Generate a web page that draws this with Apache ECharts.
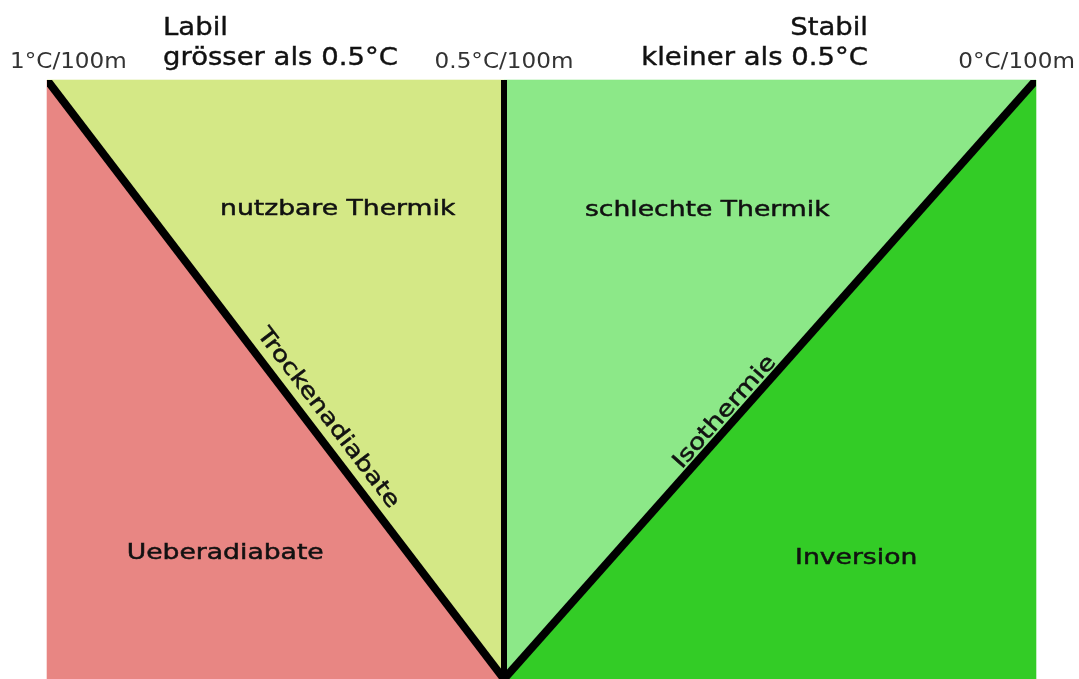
<!DOCTYPE html>
<html><head><meta charset="utf-8">
<script src="https://cdn.jsdelivr.net/npm/echarts@6/dist/echarts.min.js"></script>
<style>html,body{margin:0;padding:0;background:#fff}#c{width:1079px;height:679px}</style>
</head><body><div id="c"></div>
<script>
// lapse rate (°C per 100 m) on x, relative height on y
const leftTicks = [1, 0.5];
const leftTickLabels = ['1°C/100m', '0.5°C/100m'];
const rightTicks = [0];
const rightTickLabels = ['0°C/100m'];
const headerLabil = ['Labil', 'grösser als 0.5°C'];
const headerStabil = ['Stabil', 'kleiner als 0.5°C'];

const ueberadiabate = [[1, 1], [1, 0], [0.5, 0]];
const nutzbareThermik = [[1, 1], [0.5, 1], [0.5, 0]];
const schlechteThermik = [[0.5, 1], [0, 1], [0.5, 0]];
const inversion = [[0, 1], [0, 0], [0.5, 0]];

const trockenadiabate = [[1, 1], [0.5, 0]];
const neutralLine = [[0.5, 1], [0.5, 0]];
const isothermie = [[0.5, 0], [0, 1]];

const leftRegionNames = ['nutzbare Thermik', 'Ueberadiabate'];
const leftRegionAnchors = [[0.682, 0.785], [0.805, 0.210]];
const rightRegionNames = ['schlechte Thermik', 'Inversion'];
const rightRegionAnchors = [[0.309, 0.783], [0.169, 0.201]];

const FONT = '"DejaVu Sans", Verdana, sans-serif';
const chart = echarts.init(document.getElementById('c'), null, {renderer: 'canvas'});

function textEl(x, y, text, size, sx, align, rot, strokeW) {
  return {
    type: 'text', x: x, y: y, rotation: rot || 0, scaleX: sx, scaleY: 1,
    style: {
      text: text, fill: '#111', font: size + 'px ' + FONT,
      stroke: strokeW ? '#111' : null, lineWidth: strokeW || 0,
      align: align, textAlign: align, verticalAlign: 'middle', textVerticalAlign: 'middle'
    }
  };
}

function polySeries(points, gi, color) {
  return {
    type: 'custom', xAxisIndex: gi, yAxisIndex: gi, silent: true, z: 1,
    data: points, encode: {x: 0, y: 1},
    renderItem: function (params, api) {
      if (params.dataIndex !== 0) return null;
      return {type: 'polygon', shape: {points: points.map(p => api.coord(p))},
        style: {fill: color, stroke: color, lineWidth: 0.6}};
    }
  };
}

function lineSeries(points, gi, width, label, clip) {
  return {
    type: 'custom', xAxisIndex: gi, yAxisIndex: gi, silent: true, z: 3, clip: clip,
    data: points, encode: {x: 0, y: 1},
    renderItem: function (params, api) {
      if (params.dataIndex !== 0) return null;
      const a = api.coord(points[0]), b = api.coord(points[1]);
      const children = [{type: 'polyline', shape: {points: [a, b]},
        style: {stroke: '#000', lineWidth: width, fill: null}}];
      if (label) {
        const dx = b[0] - a[0], dy = b[1] - a[1], len = Math.hypot(dx, dy);
        const px = a[0] + dx * label.t + label.off * dy / len;
        const py = a[1] + dy * label.t - label.off * dx / len;
        children.push(textEl(px, py, label.text, 22, 1.22, 'center', -Math.atan2(dy, dx), 0.5));
      }
      return {type: 'group', children: children};
    }
  };
}

function regionTextSeries(anchors, names, gi) {
  return {
    type: 'custom', xAxisIndex: gi, yAxisIndex: gi, silent: true, z: 4,
    data: anchors, encode: {x: 0, y: 1},
    renderItem: function (params, api) {
      const c = api.coord(anchors[params.dataIndex]);
      return textEl(c[0], c[1], names[params.dataIndex], 22, 1.21, 'center', 0, 0.5);
    }
  };
}

function tickSeries(ticks, labels, gi) {
  return {
    type: 'custom', xAxisIndex: gi, yAxisIndex: gi, silent: true, z: 4,
    data: ticks.map(t => [t, 1]), encode: {x: 0, y: 1},
    renderItem: function (params, api) {
      const v = ticks[params.dataIndex];
      const c = api.coord([v, 1]);
      let align = 'center', x = c[0];
      if (v === 1) { align = 'left'; x = c[0] - 37; }
      if (v === 0) { align = 'right'; x = c[0] + 39; }
      const el = textEl(x, c[1] - 17, labels[params.dataIndex], 21, 1.1, align);
      el.style.fill = '#333';
      return el;
    }
  };
}

const option = {
  backgroundColor: '#ffffff',
  animation: false,
  grid: [
    {left: 47, width: 457, top: 80, bottom: 0},
    {left: 504, width: 532, top: 80, bottom: 0}
  ],
  xAxis: [
    {gridIndex: 0, type: 'value', min: 0.5, max: 1, inverse: true, show: false},
    {gridIndex: 1, type: 'value', min: 0, max: 0.5, inverse: true, show: false}
  ],
  yAxis: [
    {gridIndex: 0, type: 'value', min: 0, max: 1, show: false},
    {gridIndex: 1, type: 'value', min: 0, max: 1, show: false}
  ],
  graphic: [
    textEl(163, 28, headerLabil[0], 25, 1.1, 'left', 0, 0.4),
    textEl(163, 58, headerLabil[1], 25, 1.1, 'left', 0, 0.4),
    textEl(868, 28, headerStabil[0], 25, 1.1, 'right', 0, 0.4),
    textEl(868, 58, headerStabil[1], 25, 1.1, 'right', 0, 0.4)
  ],
  series: [
    polySeries(ueberadiabate, 0, '#E88683'),
    polySeries(nutzbareThermik, 0, '#D4E886'),
    polySeries(schlechteThermik, 1, '#8CE888'),
    polySeries(inversion, 1, '#33CC26'),
    lineSeries(trockenadiabate, 0, 8, {text: 'Trockenadiabate', t: 0.583, off: 18}, true),
    lineSeries(neutralLine, 0, 6, null, false),
    lineSeries(isothermie, 1, 8, {text: 'Isothermie', t: 0.432, off: 12}, true),
    regionTextSeries(leftRegionAnchors, leftRegionNames, 0),
    regionTextSeries(rightRegionAnchors, rightRegionNames, 1),
    tickSeries(leftTicks, leftTickLabels, 0),
    tickSeries(rightTicks, rightTickLabels, 1)
  ]
};
chart.setOption(option);
</script>
</body></html>
